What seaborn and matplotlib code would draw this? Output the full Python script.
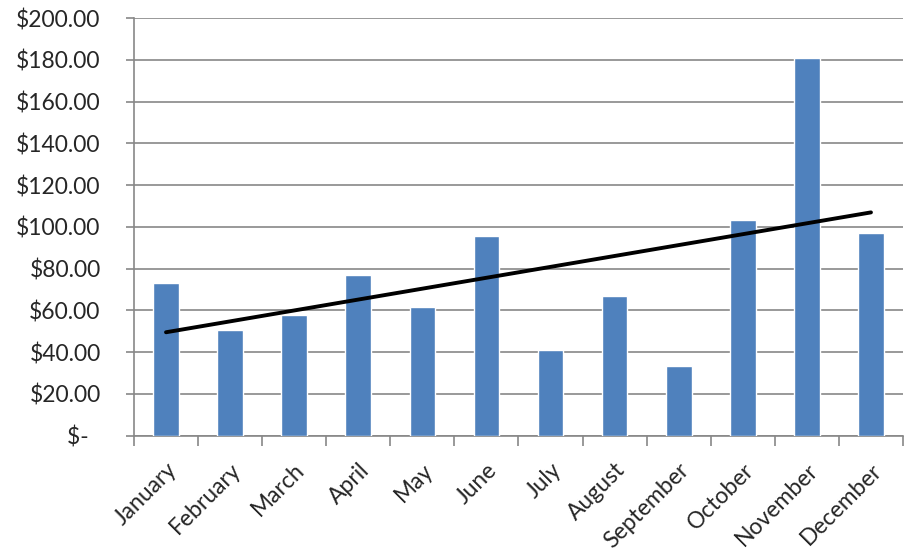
import matplotlib
matplotlib.use("Agg")
import matplotlib.pyplot as plt
import seaborn as sns
import numpy as np
import pandas as pd
from matplotlib.ticker import FixedLocator, FuncFormatter

months = ["January", "February", "March", "April", "May", "June", "July",
          "August", "September", "October", "November", "December"]
amounts = [73.2, 50.7, 57.9, 77.0, 61.7, 95.7, 41.1, 67.0, 33.5, 103.3, 180.7, 96.9]
y_ticks = [0, 20, 40, 60, 80, 100, 120, 140, 160, 180, 200]

df = pd.DataFrame({"month": months, "amount": amounts})

sns.set_style("white")
plt.rcParams["font.family"] = ["Lato", "DejaVu Sans"]

fig = plt.figure(figsize=(9.15, 5.58), dpi=100)
ax = fig.add_axes([0.1464, 0.2192, 0.8405, 0.7485])

sns.barplot(data=df, x="month", y="amount", color="#4F81BD", saturation=1,
            width=0.4, ax=ax, zorder=3)

# linear trendline from the data
xs = np.arange(len(amounts))
slope, intercept = np.polyfit(xs, amounts, 1)
ax.plot([xs[0], xs[-1]], [intercept, intercept + slope * xs[-1]],
        color="black", lw=2.8, zorder=4, solid_capstyle="round")

ax.set_xlim(-0.5, len(months) - 0.5)
ax.set_ylim(0, 200)
ax.yaxis.set_major_locator(FixedLocator(y_ticks))

def fmt(v, pos):
    if abs(v) < 1e-9:
        return "$-  "
    return f"${v:,.2f}"

ax.yaxis.set_major_formatter(FuncFormatter(fmt))
ax.grid(axis="y", color="#878787", lw=1.2, zorder=0)
ax.set_axisbelow(True)

for s in ["top", "right"]:
    ax.spines[s].set_visible(False)
for s in ["left", "bottom"]:
    ax.spines[s].set_color("#878787")
    ax.spines[s].set_linewidth(1.2)

ax.tick_params(axis="y", which="major", length=6, width=1.2, color="#878787",
               labelsize=16.5, pad=18, left=True)
ax.tick_params(axis="x", which="major", length=0, labelsize=16.5, pad=17)
ax.set_xticks(np.arange(-0.5, len(months), 1.0), minor=True)
ax.tick_params(axis="x", which="minor", length=7, width=1.2, color="#878787",
               bottom=True)
plt.setp(ax.get_xticklabels(), rotation=45, ha="right", rotation_mode="anchor")

ax.set_xlabel("")
ax.set_ylabel("")

fig.savefig("out.png", dpi=100)
